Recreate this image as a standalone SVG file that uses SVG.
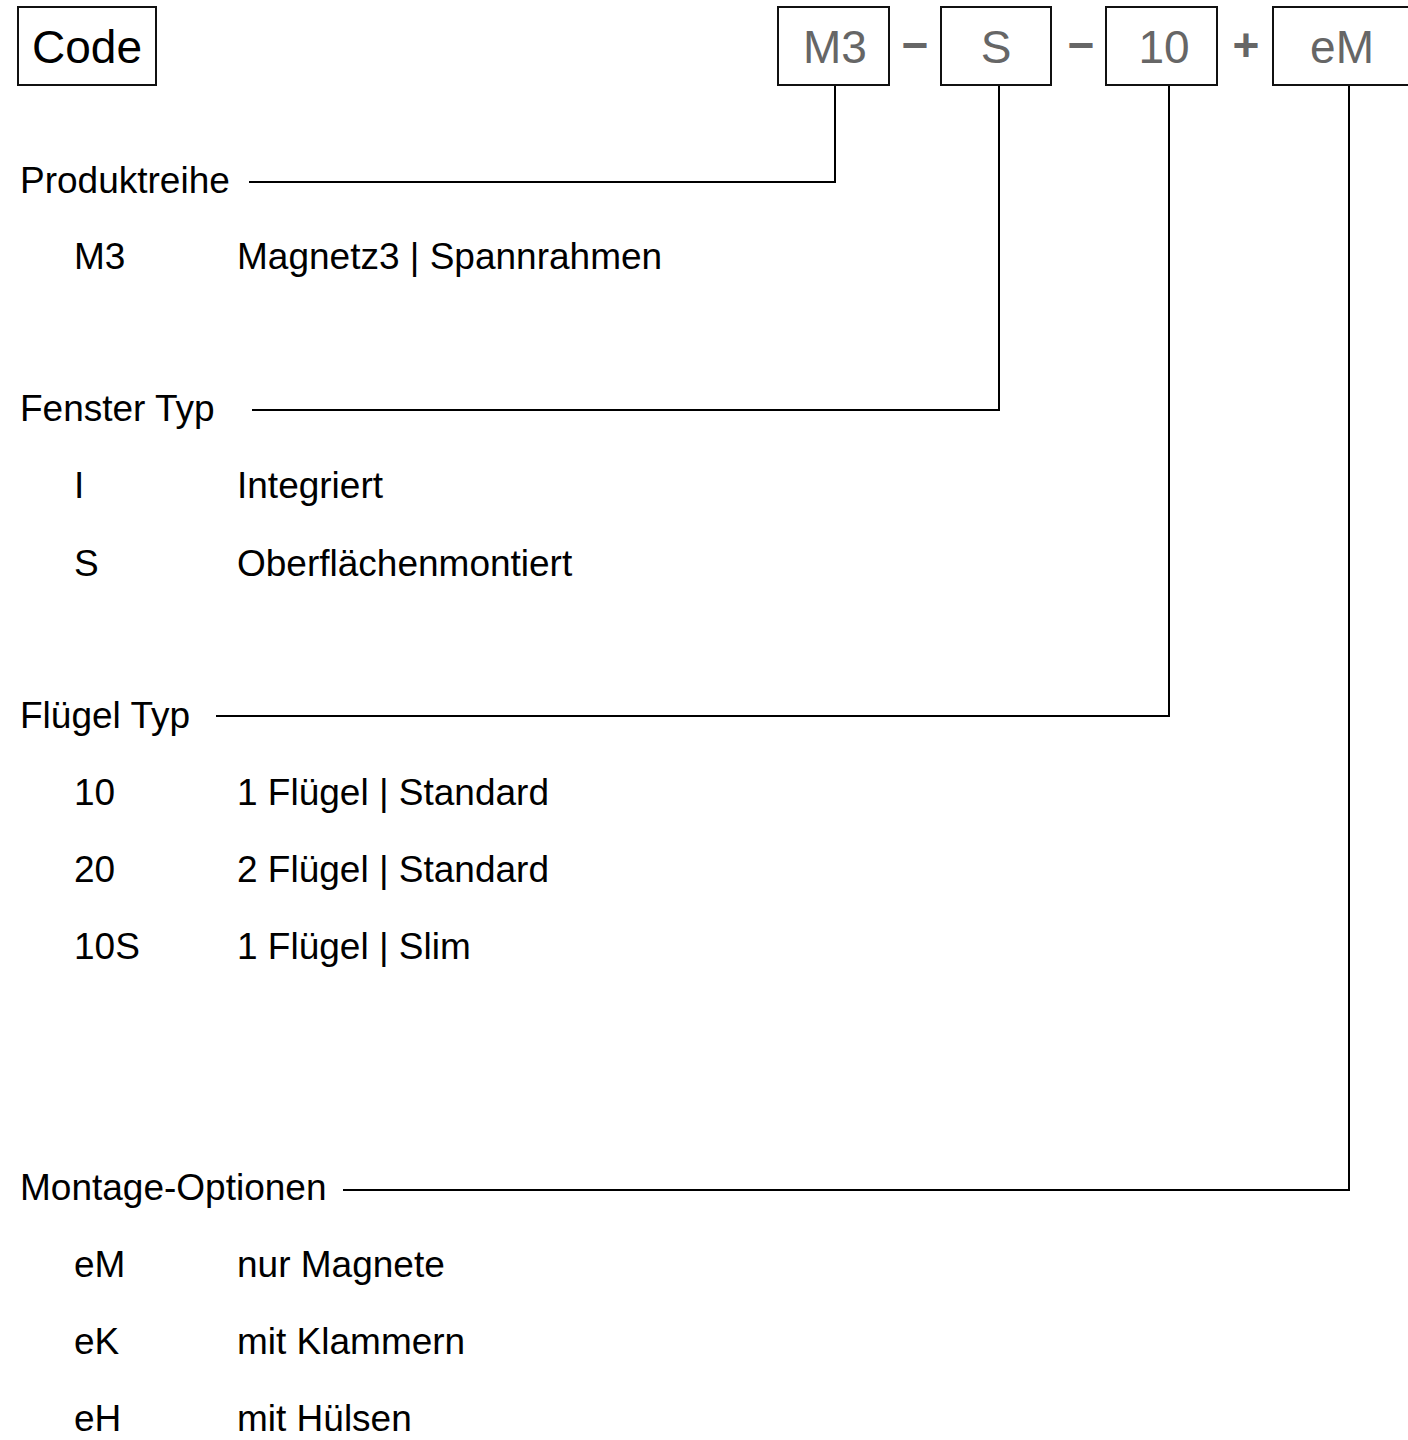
<svg xmlns="http://www.w3.org/2000/svg" width="1408" height="1440" viewBox="0 0 1408 1440">
<style>
text{font-family:"Liberation Sans",Arial,sans-serif;}
.box{fill:#fff;stroke:#111;stroke-width:2;}
.bt{font-size:46px;fill:#666;text-anchor:middle;}
.op{font-size:46px;fill:#666;font-weight:bold;text-anchor:middle;}
.t{font-size:37px;fill:#000;}
.conn{fill:none;stroke:#000;stroke-width:2;}
</style>
<rect width="1408" height="1440" fill="#fff"/>
<g id="code">
<rect class="box" x="18" y="7" width="138" height="78"/>
<text x="87" y="63" font-size="46" text-anchor="middle" fill="#000">Code</text>
</g>
<g id="box-m3"><rect class="box" x="778" y="7" width="111" height="78"/><text class="bt" x="835" y="63">M3</text></g>
<g id="op1"><text class="op" x="915" y="61">−</text></g>
<g id="box-s"><rect class="box" x="941" y="7" width="110" height="78"/><text class="bt" x="996" y="63">S</text></g>
<g id="op2"><text class="op" x="1081" y="61">−</text></g>
<g id="box-10"><rect class="box" x="1106" y="7" width="111" height="78"/><text class="bt" x="1164" y="63">10</text></g>
<g id="op3"><text class="op" x="1246" y="61">+</text></g>
<g id="box-em"><rect class="box" x="1273" y="7" width="140" height="78"/><text class="bt" x="1342" y="63">eM</text></g>
<g id="connectors">
<polyline class="conn" points="835,86 835,182 249,182"/>
<polyline class="conn" points="999,86 999,410 252,410"/>
<polyline class="conn" points="1169,86 1169,716 216,716"/>
<polyline class="conn" points="1349,86 1349,1190 343,1190"/>
</g>
<g id="produktreihe">
<text class="t" x="20" y="193">Produktreihe</text>
<text class="t" x="74" y="269">M3</text><text class="t" x="237" y="269">Magnetz3 | Spannrahmen</text>
</g>
<g id="fenster">
<text class="t" x="20" y="421">Fenster Typ</text>
<text class="t" x="74" y="498">I</text><text class="t" x="237" y="498">Integriert</text>
<text class="t" x="74" y="576">S</text><text class="t" x="237" y="576">Oberflächenmontiert</text>
</g>
<g id="fluegel">
<text class="t" x="20" y="728">Flügel Typ</text>
<text class="t" x="74" y="805">10</text><text class="t" x="237" y="805">1 Flügel | Standard</text>
<text class="t" x="74" y="882">20</text><text class="t" x="237" y="882">2 Flügel | Standard</text>
<text class="t" x="74" y="959">10S</text><text class="t" x="237" y="959">1 Flügel | Slim</text>
</g>
<g id="montage">
<text class="t" x="20" y="1200">Montage-Optionen</text>
<text class="t" x="74" y="1277">eM</text><text class="t" x="237" y="1277">nur Magnete</text>
<text class="t" x="74" y="1354">eK</text><text class="t" x="237" y="1354">mit Klammern</text>
<text class="t" x="74" y="1431">eH</text><text class="t" x="237" y="1431">mit Hülsen</text>
</g>
</svg>
